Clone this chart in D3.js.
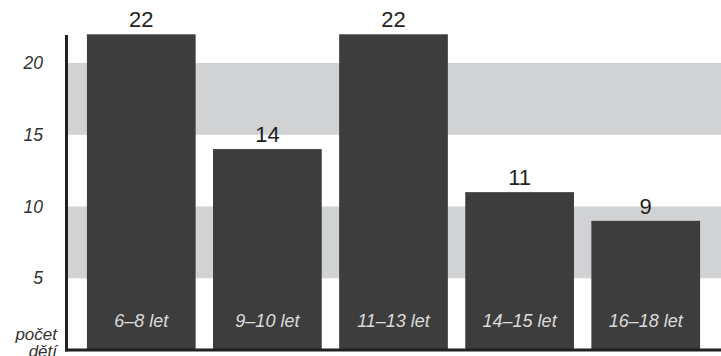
<!DOCTYPE html>
<html>
<head>
<meta charset="utf-8">
<script src="https://cdn.jsdelivr.net/npm/d3@7/dist/d3.min.js"></script>
<style>
  html, body { margin: 0; padding: 0; background: #fff; }
  svg { display: block; }
  text { font-family: "Liberation Sans", Arial, Helvetica, sans-serif; }
</style>
</head>
<body>
<svg id="chart" width="721" height="356"></svg>
<script>
// Počet dětí podle věkové skupiny
const categories = ["6–8 let", "9–10 let", "11–13 let", "14–15 let", "16–18 let"];
const counts = [22, 14, 22, 11, 9];
const tickValues = [5, 10, 15, 20];
const bandPairs = [[5, 10], [15, 20]];   // shaded stripes
const axisTitle = ["počet", "dětí"];

const W = 721, H = 356;
const svg = d3.select("#chart");

const x = d3.scaleBand()
  .domain(categories)
  .range([68, 719])
  .paddingInner(0.138)
  .paddingOuter(0.15);

const y = d3.scaleLinear()
  .domain([0, 20])
  .range([350, 63]);

// shaded stripes
svg.append("g")
  .selectAll("rect")
  .data(bandPairs)
  .join("rect")
  .attr("x", 68)
  .attr("width", W - 68)
  .attr("y", d => y(d[1]))
  .attr("height", d => y(d[0]) - y(d[1]))
  .attr("fill", "#d1d2d4");

// bars
svg.append("g")
  .selectAll("rect")
  .data(categories)
  .join("rect")
  .attr("x", d => x(d))
  .attr("width", x.bandwidth())
  .attr("y", (d, i) => y(counts[i]))
  .attr("height", (d, i) => y(0) - y(counts[i]))
  .attr("fill", "#3d3d3d");

// value labels above bars
svg.append("g")
  .selectAll("text")
  .data(categories)
  .join("text")
  .attr("x", d => x(d) + x.bandwidth() / 2)
  .attr("y", (d, i) => y(counts[i]) - 7)
  .attr("text-anchor", "middle")
  .attr("font-size", 22)
  .attr("fill", "#231f20")
  .text((d, i) => counts[i]);

// category labels inside bars
svg.append("g")
  .selectAll("text")
  .data(categories)
  .join("text")
  .attr("x", d => x(d) + x.bandwidth() / 2)
  .attr("y", 327)
  .attr("text-anchor", "middle")
  .attr("font-size", 18)
  .attr("font-style", "italic")
  .attr("fill", "#dcdcdc")
  .text(d => d);

// y axis: tick labels only
const yAxis = d3.axisLeft(y)
  .tickValues(tickValues)
  .tickSize(0)
  .tickPadding(0);

const gy = svg.append("g")
  .attr("transform", "translate(43,0)")
  .call(yAxis);
gy.select(".domain").remove();
gy.selectAll("text")
  .attr("font-family", "Liberation Sans, Arial, sans-serif")
  .attr("font-size", 17.5)
  .attr("font-style", "italic")
  .attr("fill", "#333")
  .attr("dy", "0.32em");

// axis lines
svg.append("line")
  .attr("x1", 66.5).attr("x2", 66.5)
  .attr("y1", 35).attr("y2", 351.5)
  .attr("stroke", "#231f20").attr("stroke-width", 3);
svg.append("line")
  .attr("x1", 65).attr("x2", W)
  .attr("y1", y(0)).attr("y2", y(0))
  .attr("stroke", "#231f20").attr("stroke-width", 3);

// axis title
svg.append("text")
  .attr("text-anchor", "end")
  .attr("font-size", 17)
  .attr("font-style", "italic")
  .attr("fill", "#333")
  .selectAll("tspan")
  .data(axisTitle)
  .join("tspan")
  .attr("x", 57)
  .attr("y", (d, i) => 340 + i * 17)
  .text(d => d);
</script>
</body>
</html>
